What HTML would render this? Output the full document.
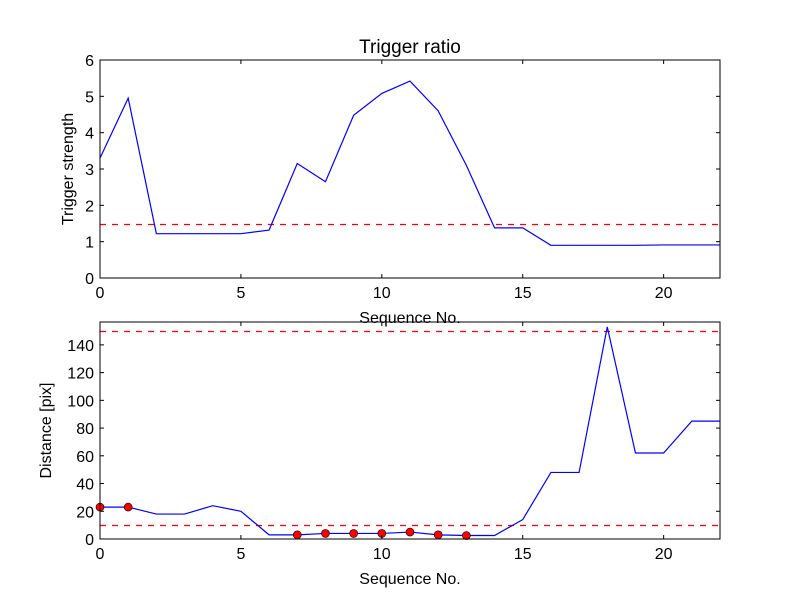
<!DOCTYPE html>
<html><head><meta charset="utf-8"><style>body{margin:0;background:#fff}svg{display:block;font-family:"Liberation Sans",sans-serif}</style></head>
<body>
<svg id="chart" width="800" height="600"></svg>
<script>
const seqX = [0,1,2,3,4,5,6,7,8,9,10,11,12,13,14,15,16,17,18,19,20,21,22];
const strengthValues = [3.3,4.95,1.22,1.22,1.22,1.22,1.32,3.15,2.65,4.48,5.08,5.42,4.6,3.1,1.38,1.38,0.9,0.9,0.9,0.9,0.91,0.91,0.91];
const strengthThreshold = 1.5;
const distanceValues = [23,23,18,18,24,20,3,3,4,4,4,5,3,2.5,2.5,14,48,48,153,62,62,85,85];
const markerIdx = [0,1,7,8,9,10,11,12,13];
const distanceThresholds = [10,150];
const xTicks = [0,5,10,15,20];
const topYTicks = [0,1,2,3,4,5,6];
const botYTicks = [0,20,40,60,80,100,120,140];

const NS="http://www.w3.org/2000/svg";
const svg=document.getElementById('chart');
function mk(tag,attrs,parent){const e=document.createElementNS(NS,tag);for(const k in attrs)e.setAttribute(k,attrs[k]);(parent||svg).appendChild(e);return e;}
function txt(s,attrs,parent){const e=mk('text',attrs,parent);e.textContent=s;return e;}

function panel(name,top,bottom,ymax,yTicks,vals,thresholds,markers,ylabel,title){
  const L=100,R=720;
  const g=mk('g',{});
  
  
  const sx=v=>L+(v-0)/22*(R-L);
  const sy=v=>bottom-v/ymax*(bottom-top);
  thresholds.forEach(t=>{const y=Math.round(sy(t))+0.5;const l=mk('line',{x1:L,x2:R,y1:y,y2:y,stroke:'#ff0000','stroke-width':1.2,'stroke-dasharray':'6,6'},g);
    });
  const p=mk('polyline',{points:seqX.map((x,i)=>sx(x)+','+sy(vals[i])).join(' '),fill:'none',stroke:'#0000ff','stroke-width':1.2},g);
  
  markers.forEach(i=>{const c=mk('circle',{cx:sx(seqX[i]),cy:sy(vals[i]),r:4,fill:'#ff0000',stroke:'#000','stroke-width':0.6},g);
    });
  const fr=mk('rect',{x:L,y:top,width:R-L,height:bottom-top,fill:'none',stroke:'#000','stroke-width':1},g);
  
  xTicks.forEach(t=>{mk('line',{x1:sx(t),x2:sx(t),y1:bottom,y2:bottom-4,stroke:'#000'},g);mk('line',{x1:sx(t),x2:sx(t),y1:top,y2:top+4,stroke:'#000'},g);
    const e=txt(String(t),{x:sx(t),y:bottom+20,'font-size':16,'text-anchor':'middle'},g);});
  yTicks.forEach(t=>{mk('line',{x1:L,x2:L+4,y1:sy(t),y2:sy(t),stroke:'#000'},g);mk('line',{x1:R,x2:R-4,y1:sy(t),y2:sy(t),stroke:'#000'},g);
    const e=txt(String(t),{x:L-6,y:sy(t)+6,'font-size':16,'text-anchor':'end'},g);});
  const xl=txt('Sequence No.',{x:(L+R)/2,y:bottom+45,'font-size':16,'text-anchor':'middle'},g);
  
  const ylx=ylabel.startsWith('Dist')?51:73;
  const yl=txt(ylabel,{x:ylx,y:(top+bottom)/2,'font-size':16,'text-anchor':'middle',transform:`rotate(-90 ${ylx} ${(top+bottom)/2})`},g);
  
  if(title){const tt=txt(title,{x:(L+R)/2,y:top-7,'font-size':19,'text-anchor':'middle'},g);}
}
panel('trigger-strength-panel',60,278,6,topYTicks,strengthValues,[strengthThreshold],[],'Trigger strength','Trigger ratio');
panel('distance-panel',322,539,156.5,botYTicks,distanceValues,distanceThresholds,markerIdx,'Distance [pix]',null);
</script>
</body></html>
